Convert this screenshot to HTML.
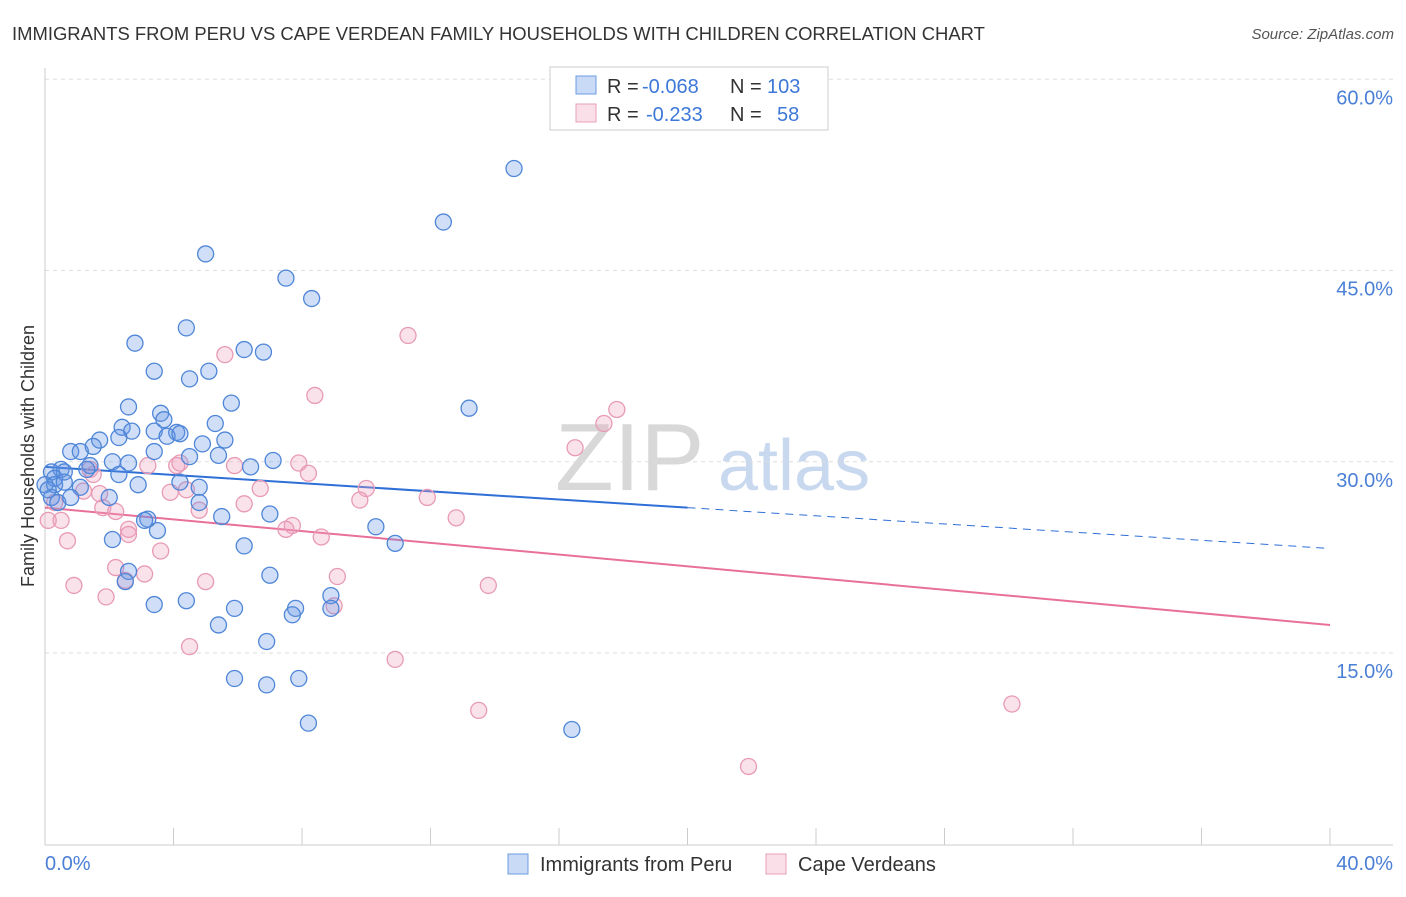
<!DOCTYPE html>
<html><head><meta charset="utf-8">
<style>
body{margin:0;background:#fff;font-family:"Liberation Sans",sans-serif;}
svg text{font-family:"Liberation Sans",sans-serif;}
</style></head>
<body>
<svg id="chart" width="1406" height="892">
<text x="12" y="40" font-size="18.45" fill="#333">IMMIGRANTS FROM PERU VS CAPE VERDEAN FAMILY HOUSEHOLDS WITH CHILDREN CORRELATION CHART</text>
<text x="1394" y="39" font-size="15" fill="#555" font-style="italic" text-anchor="end">Source: ZipAtlas.com</text>
<text x="555" y="490" font-size="96" fill="#d8d8d8" font-family="Liberation Serif">ZIP</text>
<text x="718" y="490" font-size="72" fill="#c8d8ee">atlas</text>
<text transform="translate(34,456) rotate(-90)" font-size="18" fill="#333" text-anchor="middle">Family Households with Children</text>
<g id="grid"></g><g id="axes"></g><g id="lines"></g><g id="pts"></g>
<g>
<rect x="550" y="67" width="278" height="63" fill="#fff" stroke="#ccc"/>
<rect x="576" y="76" width="20" height="18" fill="rgba(100,150,230,0.35)" stroke="#6b9be0"/>
<rect x="576" y="104" width="20" height="18" fill="rgba(240,160,190,0.35)" stroke="#e8a0ba"/>
<text x="607" y="93" font-size="20" fill="#333">R = <tspan x="642" fill="#3d78d8">-0.068</tspan><tspan x="730">N = </tspan><tspan x="767" fill="#3d78d8">103</tspan></text>
<text x="607" y="121" font-size="20" fill="#333">R = <tspan x="646" fill="#3d78d8">-0.233</tspan><tspan x="730">N = </tspan><tspan x="777" fill="#3d78d8">58</tspan></text>
</g>
<g>
<rect x="508" y="854" width="20" height="20" fill="rgba(100,150,230,0.35)" stroke="#6b9be0"/>
<text x="540" y="871" font-size="20" fill="#333">Immigrants from Peru</text>
<rect x="766" y="854" width="20" height="20" fill="rgba(240,160,190,0.35)" stroke="#e8a0ba"/>
<text x="798" y="871" font-size="20" fill="#333">Cape Verdeans</text>
</g>
</svg>
<script>
const blueX=[14.6,12.4,5.0,7.5,8.3,4.4,2.8,6.8,6.2,3.4,5.1,4.5,13.2,5.8,2.6,3.6,3.7,5.3,2.4,2.7,3.4,4.1,3.8,4.2,2.3,5.6,4.9,1.7,1.5,0.8,1.1,3.4,4.5,5.4,2.6,2.1,1.4,7.1,6.4,0.5,1.3,2.3,0.2,0.6,0.3,0.0,0.3,0.6,1.1,2.9,4.2,4.8,2.0,0.2,0.4,4.8,7.0,5.5,3.2,3.1,10.3,3.5,2.1,10.9,6.2,2.6,7.0,2.5,8.9,3.4,4.4,5.9,7.8,7.7,8.9,5.4,6.9,5.9,6.9,7.9,8.2,16.4,0.1,0.8];
const blueY=[53.0,48.8,46.3,44.4,42.8,40.5,39.3,38.6,38.8,37.1,37.1,36.5,34.2,34.6,34.3,33.8,33.3,33.0,32.7,32.4,32.4,32.3,32.0,32.2,31.9,31.7,31.4,31.7,31.2,30.8,30.8,30.8,30.4,30.5,29.9,30.0,29.7,30.1,29.6,29.4,29.4,29.0,29.2,29.2,28.7,28.2,28.2,28.4,28.0,28.2,28.4,28.0,27.2,27.2,26.8,26.8,25.9,25.7,25.5,25.4,24.9,24.6,23.9,23.6,23.4,21.4,21.1,20.6,19.5,18.8,19.1,18.5,18.5,18.0,18.5,17.2,15.9,13.0,12.5,13.0,9.5,9.0,27.8,27.2];
const pinkX=[11.3,5.6,8.4,17.8,17.4,16.5,3.2,4.1,5.9,7.9,8.2,1.4,6.7,10.0,11.9,3.9,4.4,1.2,1.7,0.3,1.8,2.2,4.8,6.2,9.8,12.8,7.7,7.5,8.6,2.6,2.6,0.7,3.6,2.2,3.1,9.1,13.8,0.9,5.0,2.5,1.9,9.0,4.5,10.9,13.5,30.1,21.9,0.1,0.5,4.2,1.5];
const pinkY=[39.9,38.4,35.2,34.1,33.0,31.1,29.7,29.7,29.7,29.9,29.1,29.4,27.9,27.9,27.2,27.6,27.8,27.7,27.5,26.8,26.4,26.1,26.2,26.7,27.0,25.6,25.0,24.7,24.1,24.7,24.3,23.8,23.0,21.7,21.2,21.0,20.3,20.3,20.6,20.7,19.4,18.7,15.5,14.5,10.5,11.0,6.1,25.4,25.4,29.9,29.0];
const blueTrend=[29.6,23.2]; // y at x=0 and x=40
const pinkTrend=[26.4,17.2];
const yTicks=[15,30,45,60];
const NS="http://www.w3.org/2000/svg";
const X=v=>45+v/40*1285;
const Y=v=>653-(v-15)*12.75;
function mk(tag,attrs,parent){const e=document.createElementNS(NS,tag);for(const k in attrs)e.setAttribute(k,attrs[k]);parent.appendChild(e);return e;}
const grid=document.getElementById('grid'),axes=document.getElementById('axes'),lines=document.getElementById('lines'),pts=document.getElementById('pts');
yTicks.forEach(t=>{
 const l=mk('line',{x1:45,x2:1393,y1:Y(t),y2:Y(t),stroke:'#ddd','stroke-dasharray':'4,4'},grid);
 
 
 const tx=mk('text',{x:1393,y:Y(t)+25,'font-size':20,fill:'#4a7fd6','text-anchor':'end'},axes);
 tx.textContent=t.toFixed(1)+'%';
 
 
});
mk('line',{x1:45,x2:45,y1:68,y2:845,stroke:'#ccc'},axes);
mk('line',{x1:45,x2:1393,y1:845,y2:845,stroke:'#ccc'},axes);
for(let i=0;i<=10;i++){const v=i*4;mk('line',{x1:X(v),x2:X(v),y1:828,y2:845,stroke:'#ccc'},axes);}
[[0,'0.0%','start',45],[40,'40.0%','end',1393]].forEach(a=>{
 const tx=mk('text',{x:a[3],y:870,'font-size':20,fill:'#4a7fd6','text-anchor':a[2]},axes);
 tx.textContent=a[1];
 
 
});
function yAt(tr,v){return tr[0]+(tr[1]-tr[0])*v/40;}
let bl=mk('line',{x1:X(0),y1:Y(yAt(blueTrend,0)),x2:X(20),y2:Y(yAt(blueTrend,20)),stroke:'#2f6fd6','stroke-width':2},lines);


let bd=mk('line',{x1:X(20),y1:Y(yAt(blueTrend,20)),x2:X(40),y2:Y(yAt(blueTrend,40)),stroke:'#2f6fd6','stroke-width':1,'stroke-dasharray':'8,6'},lines);


let pl=mk('line',{x1:X(0),y1:Y(yAt(pinkTrend,0)),x2:X(40),y2:Y(yAt(pinkTrend,40)),stroke:'#e8709a','stroke-width':2},lines);


pinkX.forEach((v,i)=>{
 const c=mk('circle',{cx:X(v),cy:Y(pinkY[i]),r:8,fill:'rgba(240,160,190,0.3)',stroke:'#e89ab5','stroke-width':1.3},pts);
 
 
});
blueX.forEach((v,i)=>{
 const c=mk('circle',{cx:X(v),cy:Y(blueY[i]),r:8,fill:'rgba(100,150,230,0.3)',stroke:'#4f86d8','stroke-width':1.3},pts);
 
 
});
</script>
</body></html>
